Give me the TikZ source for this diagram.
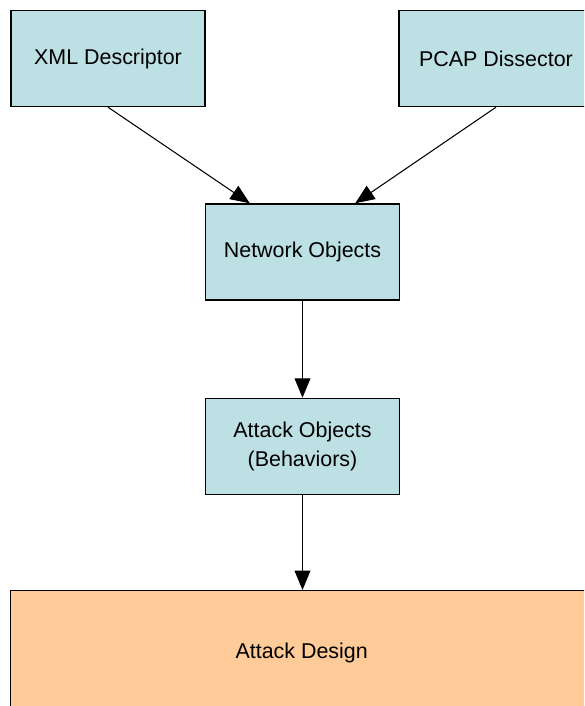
\documentclass[tikz,border=0pt]{standalone}
\usepackage{fontspec}
\setmainfont{Liberation Sans}
\usepackage{xcolor}
\usetikzlibrary{arrows.meta}
\usetikzlibrary{positioning}

\definecolor{boxblue}{RGB}{188,224,227}
\definecolor{peach}{RGB}{255,204,153}

\tikzset{
    box/.style={draw, line width=0.8pt, fill=boxblue, minimum width=3.88cm, minimum height=1.92cm,
        align=center, font=\fontsize{12.2}{17}\selectfont},
    link/.style={-{Triangle[length=11pt, width=9pt]}, line width=0.6pt},
}

\begin{document}
\begin{tikzpicture}
            \useasboundingbox(0, 0) rectangle (11.68, 14.12);
            \clip(0, 0) rectangle (11.68, 14.12);

            % sources
            \node[box](xml) at (2.16, 12.95){XML Descriptor};
            \node[box](pcap) at (9.92, 12.95){PCAP Dissector};

            % pipeline
            \node[box](net) at (6.05, 9.08){Network Objects};
            \node[box, below=1.94cm of net](atk){Attack Objects\\(Behaviors)};
            \node[box, fill=peach, minimum width=11.64cm, minimum height=2.48cm,
                anchor=north west](design) at (0.2, 2.32){Attack Design};

            \draw[link](xml.south)--([xshift=0.9cm]net.north west);
            \draw[link](pcap.south)--([xshift=-0.9cm]net.north east);
            \draw[link](net)--(atk);
            \draw[link](atk.south)--(atk.south |- design.north);
        \end{tikzpicture}
\end{document}
